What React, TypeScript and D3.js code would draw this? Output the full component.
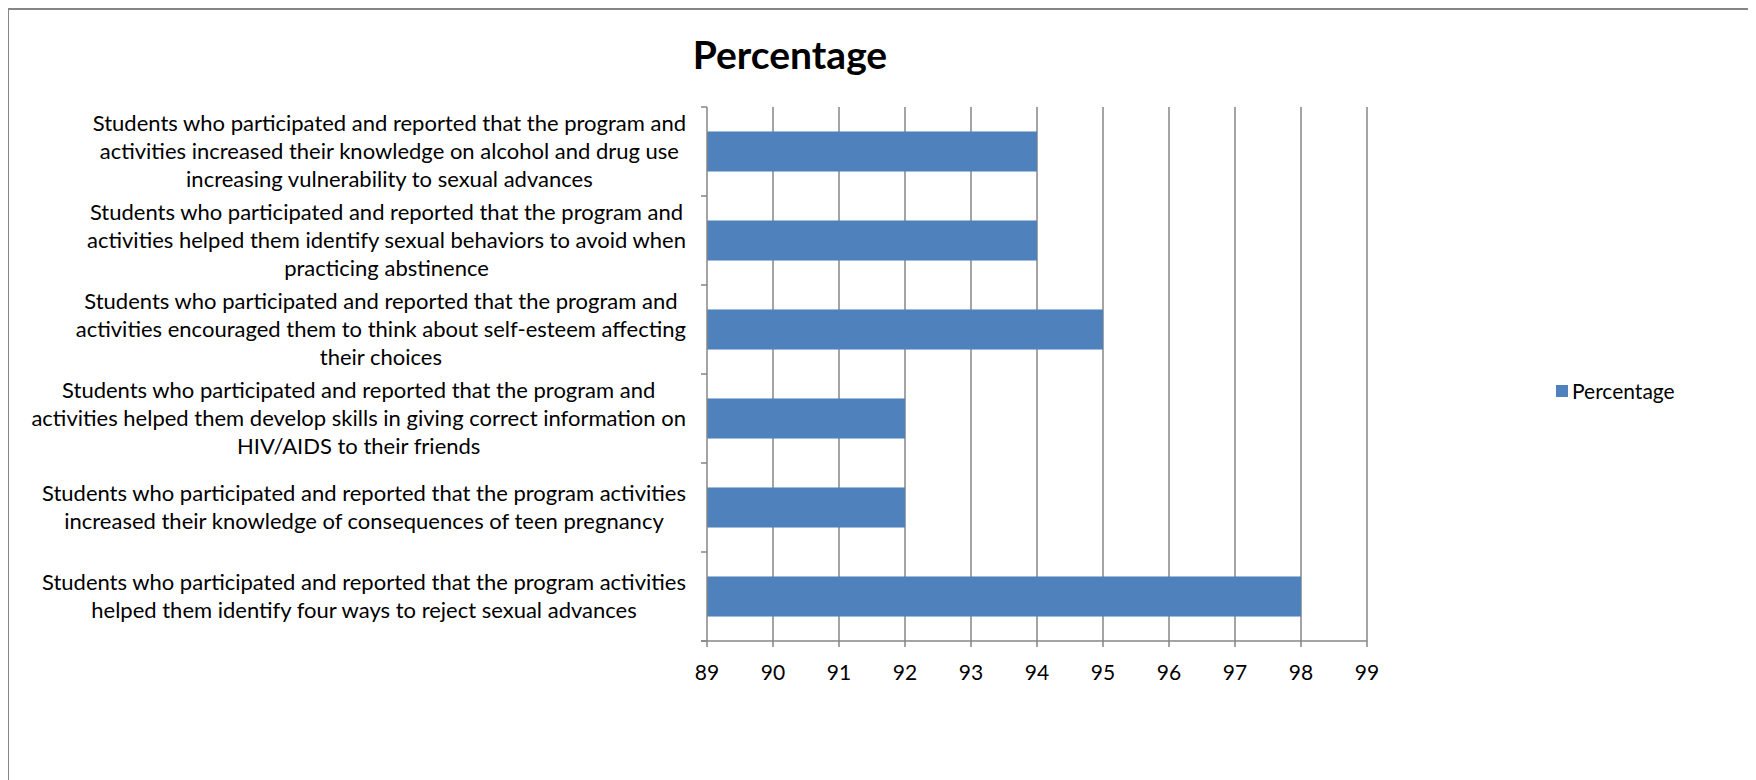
import React, { useRef, useEffect } from 'react'
import * as d3 from 'd3'

const categories: string[][] = [
  [
    'Students who participated and reported that the program and',
    'activities increased their knowledge on alcohol and drug use',
    'increasing vulnerability to sexual advances',
  ],
  [
    'Students who participated and reported that the program and',
    'activities helped them identify sexual behaviors to avoid when',
    'practicing abstinence',
  ],
  [
    'Students who participated and reported that the program and',
    'activities encouraged them to think about self-esteem affecting',
    'their choices',
  ],
  [
    'Students who participated and reported that the program and',
    'activities helped them develop skills in giving correct information on',
    'HIV/AIDS to their friends',
  ],
  [
    'Students who participated and reported that the program activities',
    'increased their knowledge of consequences of teen pregnancy',
  ],
  [
    'Students who participated and reported that the program activities',
    'helped them identify four ways to reject sexual advances',
  ],
]
const percentages = [94, 94, 95, 92, 92, 98]
const xTicks = [89, 90, 91, 92, 93, 94, 95, 96, 97, 98, 99]
const seriesName = 'Percentage'
const title = 'Percentage'

const W = 1748
const H = 772
const FONT = 'Lato, "Open Sans", sans-serif'
const BAR = '#4F81BD'
const GRID = '#868686'

const App: React.FC = () => {
  const ref = useRef<SVGSVGElement>(null)

  useEffect(() => {
    const svg = d3.select(ref.current)
    svg.selectAll('*').remove()

    const left = 699
    const right = 1359
    const top = 99
    const bottom = 633

    // frame (runs past the right and bottom edges)
    svg
      .append('rect')
      .attr('x', 0)
      .attr('y', 1)
      .attr('width', W + 20)
      .attr('height', H + 20)
      .attr('fill', 'white')
      .attr('stroke', GRID)
      .attr('stroke-width', 2)

    svg
      .append('text')
      .attr('x', 782)
      .attr('y', 61)
      .attr('text-anchor', 'middle')
      .attr('font-family', FONT)
      .attr('font-weight', 'bold')
      .attr('font-size', 39)
      .text(title)

    const x = d3.scaleLinear().domain([89, 99]).range([left, right])
    const y = d3
      .scaleBand<number>()
      .domain(d3.range(categories.length))
      .range([top, bottom])
      .paddingInner(0.55)
      .paddingOuter(0.275)

    const step = y.step()
    const g = svg.append('g')

    // vertical gridlines
    g.selectAll('line.grid')
      .data(xTicks.slice(1))
      .enter()
      .append('line')
      .attr('x1', (d) => x(d))
      .attr('x2', (d) => x(d))
      .attr('y1', top)
      .attr('y2', bottom)
      .attr('stroke', GRID)
      .attr('stroke-width', 1.5)

    // bars
    g.selectAll('rect.bar')
      .data(percentages)
      .enter()
      .append('rect')
      .attr('x', left)
      .attr('y', (_, i) => y(i) as number)
      .attr('width', (d) => x(d) - left)
      .attr('height', y.bandwidth())
      .attr('fill', BAR)

    // axis lines
    g.append('line')
      .attr('x1', left)
      .attr('x2', left)
      .attr('y1', top)
      .attr('y2', bottom)
      .attr('stroke', GRID)
      .attr('stroke-width', 1.5)
    g.append('line')
      .attr('x1', left - 6)
      .attr('x2', right)
      .attr('y1', bottom)
      .attr('y2', bottom)
      .attr('stroke', GRID)
      .attr('stroke-width', 1.5)

    // category ticks
    g.selectAll('line.ytick')
      .data(d3.range(categories.length + 1))
      .enter()
      .append('line')
      .attr('x1', left - 6)
      .attr('x2', left)
      .attr('y1', (i) => top + i * step)
      .attr('y2', (i) => top + i * step)
      .attr('stroke', GRID)
      .attr('stroke-width', 1.5)

    // value ticks
    g.selectAll('line.xtick')
      .data(xTicks)
      .enter()
      .append('line')
      .attr('x1', (d) => x(d))
      .attr('x2', (d) => x(d))
      .attr('y1', bottom)
      .attr('y2', bottom + 6)
      .attr('stroke', GRID)
      .attr('stroke-width', 1.5)

    g.selectAll('text.xlabel')
      .data(xTicks)
      .enter()
      .append('text')
      .attr('x', (d) => x(d))
      .attr('y', bottom + 39)
      .attr('text-anchor', 'middle')
      .attr('font-family', FONT)
      .attr('font-size', 21)
      .text((d) => d)

    // category labels: lines centred in a box whose right edge is fixed
    const labelRight = 678
    const lineH = 28
    categories.forEach((lines, i) => {
      const cy = (y(i) as number) + y.bandwidth() / 2
      const t = g
        .append('text')
        .attr('font-family', FONT)
        .attr('font-size', 22)
        .attr('text-anchor', 'middle')
      const spans = lines.map((line, j) =>
        t
          .append('tspan')
          .attr('y', cy + (j - (lines.length - 1) / 2) * lineH + 7)
          .text(line),
      )
      const maxW = d3.max(spans, (s) => (s.node() as SVGTSpanElement).getComputedTextLength()) || 0
      spans.forEach((s) => s.attr('x', labelRight - maxW / 2))
    })

    // legend
    svg
      .append('rect')
      .attr('x', 1548)
      .attr('y', 377)
      .attr('width', 12)
      .attr('height', 12)
      .attr('fill', BAR)
    svg
      .append('text')
      .attr('x', 1564)
      .attr('y', 391)
      .attr('font-family', FONT)
      .attr('font-size', 21)
      .text(seriesName)
  }, [])

  return <svg ref={ref} width={W} height={H} style={{ display: 'block', overflow: 'hidden' }} />
}

export default App
